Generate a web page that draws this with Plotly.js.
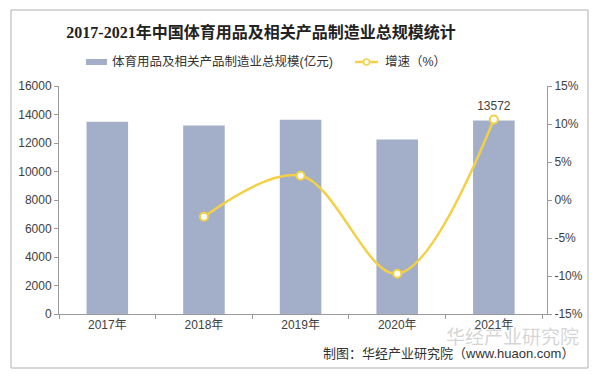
<!DOCTYPE html>
<html>
<head>
<meta charset="utf-8">
<script src="https://cdn.plot.ly/plotly-3.0.1.min.js"></script>
<style>html,body{margin:0;padding:0;background:#fff;}#chart{width:600px;height:380px;}</style>
</head>
<body>
<div id="chart"></div>
<script>
// ---- data ----
const categories = ['2017年', '2018年', '2019年', '2020年', '2021年'];
const scaleValues = [13488, 13228, 13628, 12246, 13572];      // 亿元
const growthValues = [null, -2.2, 3.2, -9.7, 10.6];            // %
const leftTicks = [0, 2000, 4000, 6000, 8000, 10000, 12000, 14000, 16000];
const rightTicks = [-15, -10, -5, 0, 5, 10, 15];
const barName = '体育用品及相关产品制造业总规模(亿元)';
const lineName = '增速（%）';
const titleText = '2017-2021年中国体育用品及相关产品制造业总规模统计';
const sourceText = '制图：华经产业研究院（www.huaon.com）';

// ---- geometry helpers (pixel -> paper) ----
const L = 59, R = 547, T = 86, B = 314;
const px = x => (x - L) / (R - L);
const py = y => (B - y) / (B - T);

const sans = 'Liberation Sans, Arial, Noto Sans CJK SC, sans-serif';
const barColor = '#a3aec8';
const lineColor = '#f3d046';
const textColor = '#404040';

const labelIdx = scaleValues.length - 1;
const lineText = growthValues.map((v, i) => i === labelIdx ? String(scaleValues[i]) : '');

const traces = [
  {
    type: 'bar', x: categories, y: scaleValues, name: barName,
    marker: {color: barColor}, width: 0.43, showlegend: false, hoverinfo: 'none'
  },
  {
    type: 'scatter', mode: 'lines+markers+text', x: categories, y: growthValues, yaxis: 'y2',
    name: lineName, showlegend: false, connectgaps: false,
    line: {color: lineColor, width: 2.5, shape: 'spline', smoothing: 1},
    marker: {size: 8, color: '#ffffff', line: {color: lineColor, width: 2}},
    text: lineText, textposition: 'top center',
    textfont: {family: sans, size: 12, color: textColor}, cliponaxis: false, hoverinfo: 'none'
  }
];

const layout = {
  width: 600, height: 380,
  margin: {l: L, r: 600 - R, t: T, b: 380 - B, pad: 0},
  paper_bgcolor: '#ffffff', plot_bgcolor: '#ffffff',
  showlegend: false,
  title: {
    text: titleText, x: 261 / 600, xanchor: 'center', xref: 'container',
    y: 1 - 32 / 380, yanchor: 'middle', yref: 'container',
    font: {family: 'Liberation Serif, Noto Sans CJK SC, serif', size: 16, color: '#222', weight: 'bold'}
  },
  xaxis: {
    type: 'category', range: [-0.5, 4.55], showgrid: false,
    showline: true, linecolor: '#9a9a9a', linewidth: 1,
    ticks: 'outside', tickson: 'boundaries', ticklen: 4, tickcolor: '#9a9a9a',
    tickfont: {family: sans, size: 12, color: textColor}, fixedrange: true
  },
  yaxis: {
    range: [0, 16000], tickvals: leftTicks, ticktext: leftTicks.map(String),
    showgrid: false, zeroline: false, showline: true, linecolor: '#9a9a9a', linewidth: 1,
    ticks: 'outside', ticklen: 4, tickcolor: '#9a9a9a',
    tickfont: {family: sans, size: 12, color: textColor}, fixedrange: true
  },
  yaxis2: {
    overlaying: 'y', side: 'right', range: [-15, 15],
    tickvals: rightTicks, ticktext: rightTicks.map(v => v + '%'),
    showgrid: false, zeroline: false, showline: true, linecolor: '#9a9a9a', linewidth: 1,
    ticks: 'outside', ticklen: 4, tickcolor: '#9a9a9a',
    tickfont: {family: sans, size: 12, color: textColor}, fixedrange: true
  },
  shapes: [
    // outer frame
    {type: 'rect', xref: 'paper', yref: 'paper', x0: px(11), x1: px(588), y0: py(368), y1: py(10),
     line: {color: '#b0b0b0', width: 1}, fillcolor: 'rgba(0,0,0,0)', layer: 'below'},
    // legend swatch bar
    {type: 'rect', xref: 'paper', yref: 'paper', x0: px(86), x1: px(107), y0: py(65), y1: py(59),
     line: {width: 0}, fillcolor: barColor},
    // legend swatch line
    {type: 'line', xref: 'paper', yref: 'paper', x0: px(355), x1: px(378), y0: py(62), y1: py(62),
     line: {color: lineColor, width: 2.5}},
    {type: 'circle', xref: 'paper', yref: 'paper', x0: px(363.5), x1: px(369.5), y0: py(65), y1: py(59),
     line: {color: lineColor, width: 1.5}, fillcolor: '#ffffff'}
  ],
  annotations: [
    {xref: 'paper', yref: 'paper', x: px(110), y: py(62), xanchor: 'left', yanchor: 'middle',
     text: barName, showarrow: false, font: {family: sans, size: 12.5, color: '#333'}},
    {xref: 'paper', yref: 'paper', x: px(383), y: py(62), xanchor: 'left', yanchor: 'middle',
     text: lineName, showarrow: false, font: {family: sans, size: 12.5, color: '#333'}},
    // watermark
    {xref: 'paper', yref: 'paper', x: px(512), y: py(337), xanchor: 'center', yanchor: 'middle',
     text: '华经产业研究院', showarrow: false, font: {family: sans, size: 19, color: 'rgba(160,160,160,0.45)'}},
    // source
    {xref: 'paper', yref: 'paper', x: px(448), y: py(353), xanchor: 'center', yanchor: 'middle',
     text: sourceText, showarrow: false, font: {family: sans, size: 13, color: '#333'}}
  ]
};

Plotly.newPlot('chart', traces, layout, {displayModeBar: false, staticPlot: true});
</script>
</body>
</html>
